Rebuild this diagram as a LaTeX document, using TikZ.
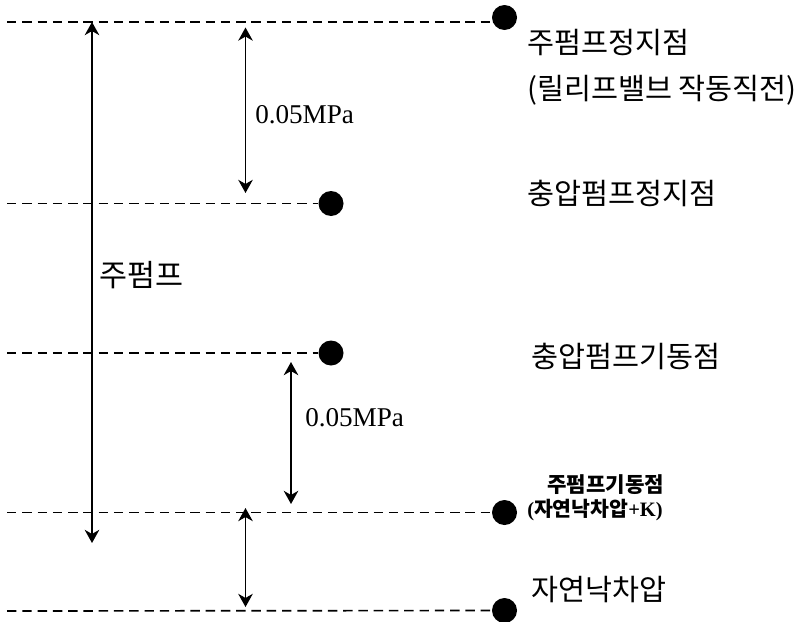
\documentclass[tikz,border=0pt]{standalone}
\usepackage{fontspec}
\setmainfont{Liberation Serif}
\newfontfamily\kr{Noto Sans CJK KR}
\usetikzlibrary{arrows.meta}
\tikzset{level/.style={line width=1.2bp,dash pattern=on 6.8bp off 4.2bp},gap/.style={line width=1.1bp,{Stealth[length=9.5bp,width=10.5bp,inset=3bp]}-{Stealth[length=9.5bp,width=10.5bp,inset=3bp]}},dot/.style={circle,fill=black,inner sep=0pt,minimum size=0.25in}}

\begin{document}
\begin{tikzpicture}[x=1in,y=-1in]
\path[use as bounding box] (0,0) rectangle (8.01,6.22);
% pressure points
\node[dot] (p1) at (5.045,0.175) {};
\node[dot] (p2) at (3.31,2.035) {};
\node[dot] (p3) at (3.31,3.53) {};
\node[dot] (p4) at (5.045,5.125) {};
\node[dot] (p5) at (5.045,6.105) {};
\coordinate (l1) at (0.07,0.22);
\coordinate (l2) at (0.07,2.035);
\coordinate (l3) at (0.07,3.53);
\coordinate (l4) at (0.07,5.125);
\coordinate (l5) at (0.07,6.11);
\draw[level] (l1) -- (l1 -| p1.west);
\draw[level] (l2) -- (p2);
\draw[level] (l3) -- (p3);
\draw[level] (l4) -- (p4);
\draw[level] (l5) -- (p5);
% ranges
\coordinate (a1t) at (0.92,0.22);
\coordinate (a1b) at (0.92,5.43);
\coordinate (a2t) at (2.455,0.275);
\coordinate (a2b) at (2.455,1.93);
\coordinate (a3t) at (2.91,3.62);
\coordinate (a3b) at (2.91,5.04);
\coordinate (a4t) at (2.455,5.08);
\coordinate (a4b) at (2.455,6.07);
\draw[gap] (a1t) -- (a1b);
\draw[gap] (a2t) -- (a2b);
\draw[gap] (a3t) -- (a3b);
\draw[gap] (a4t) -- (a4b);
\node[anchor=west,inner sep=0pt,font=\fontsize{19.6}{22}\selectfont] (mpa1) at (2.55,1.15) {0.05MPa};
\node[anchor=west,inner sep=0pt,font=\fontsize{19.6}{22}\selectfont] (mpa2) at (3.05,4.18) {0.05MPa};
\node[anchor=west,inner sep=0pt,font=\kr\fontsize{22}{24}\selectfont] (main) at (0.99,2.75) {주펌프};
% point labels
\node[anchor=west,inner sep=0pt,font=\kr\fontsize{21.2}{24}\selectfont] (t1) at (5.27,0.43) {주펌프정지점};
\node[anchor=west,inner sep=0pt,font=\kr\fontsize{21.2}{24}\selectfont] (t1b) at (5.27,0.90) {(릴리프밸브 작동직전)};
\node[anchor=west,inner sep=0pt,font=\kr\fontsize{21.2}{24}\selectfont] (t2) at (5.27,1.93) {충압펌프정지점};
\node[anchor=west,inner sep=0pt,font=\kr\fontsize{21.2}{24}\selectfont] (t3) at (5.31,3.56) {충압펌프기동점};
\node[anchor=west,inner sep=0pt,font=\kr\bfseries\fontsize{15.3}{17}\selectfont] (t4) at (5.47,4.85) {주펌프기동점};
\node[anchor=west,inner sep=0pt,font=\bfseries\fontsize{14.8}{17}\selectfont] (t4b) at (5.27,5.10) {({\kr 자연낙차압}+K)};
\node[anchor=west,inner sep=0pt,font=\kr\fontsize{21.2}{24}\selectfont] (t5) at (5.31,5.90) {자연낙차압};
\end{tikzpicture}
\end{document}
